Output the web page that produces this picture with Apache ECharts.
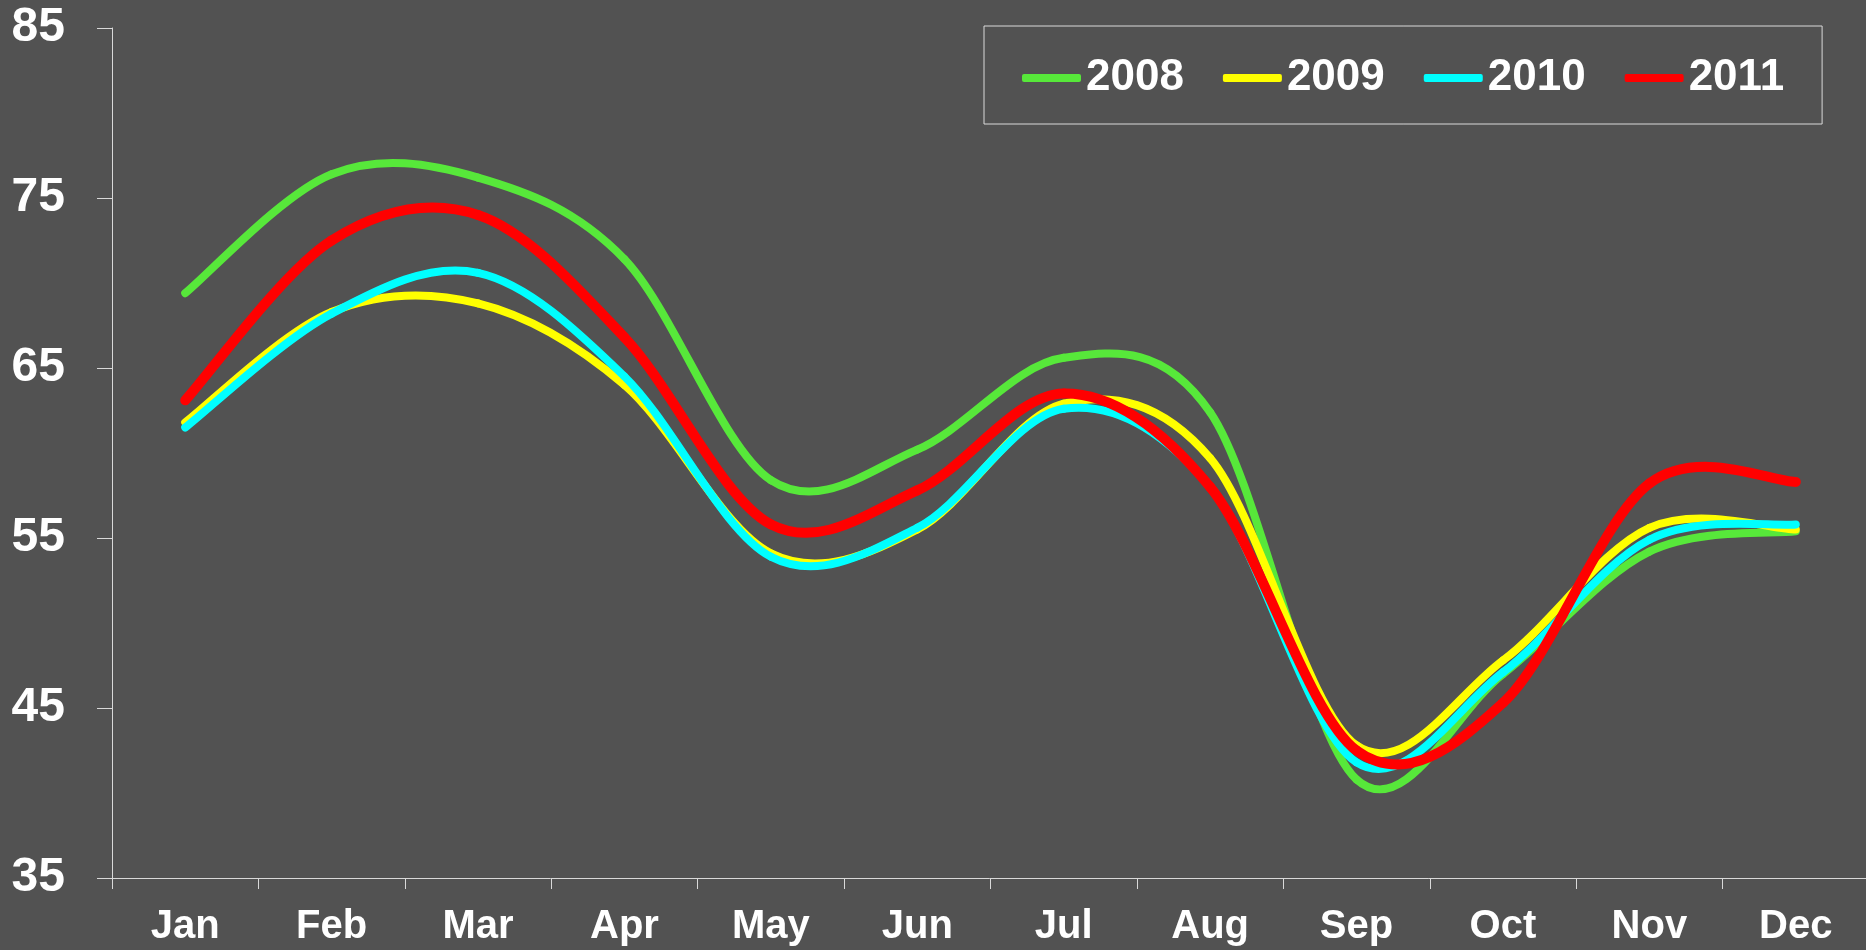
<!DOCTYPE html>
<html>
<head>
<meta charset="utf-8">
<script src="https://cdn.jsdelivr.net/npm/echarts@6/dist/echarts.min.js"></script>
<style>
  html, body { margin: 0; padding: 0; background: #525252; }
  #chart { width: 1866px; height: 950px; }
</style>
</head>
<body>
<div id="chart"></div>
<script>
// data
var months = ['Jan', 'Feb', 'Mar', 'Apr', 'May', 'Jun', 'Jul', 'Aug', 'Sep', 'Oct', 'Nov', 'Dec'];
var yTicks = [35, 45, 55, 65, 75, 85];
var years = ['2008', '2009', '2010', '2011'];

var v2008 = [69.4, 76.4, 76.2, 71.4, 58.4, 60.2, 65.6, 62.4, 40.8, 47.0, 54.2, 55.4];
var v2009 = [61.8, 68.3, 68.8, 64.0, 54.1, 55.5, 62.9, 59.7, 42.8, 47.8, 55.6, 55.5];
var v2010 = [61.5, 68.2, 70.6, 64.5, 53.9, 55.6, 62.6, 58.0, 41.8, 47.1, 54.9, 55.8];
var v2011 = [63.1, 72.5, 74.0, 66.8, 55.8, 57.8, 63.5, 58.0, 42.5, 45.3, 58.2, 58.3];

var colors = ['#57E83A', '#FFFF00', '#00FFFF', '#FF0000'];
var widths = [8, 8, 8, 10];

var font = '"Liberation Sans", Arial, sans-serif';

// excel-like smoothed line: one bezier piece per pair of neighbouring points
function makeSeries(name, vals, i) {
  return {
    name: name,
    type: 'custom',
    coordinateSystem: 'cartesian2d',
    data: vals.map(function (v, k) { return [k, v]; }),
    encode: { x: 0, y: 1 },
    itemStyle: { color: colors[i] },
    z: 2 + i,
    renderItem: function (params, api) {
      var k = params.dataIndex;
      if (k >= vals.length - 1) return null;
      var p0 = api.coord([Math.max(k - 1, 0), vals[Math.max(k - 1, 0)]]);
      var p1 = api.coord([k, vals[k]]);
      var p2 = api.coord([k + 1, vals[k + 1]]);
      var j = Math.min(k + 2, vals.length - 1);
      var p3 = api.coord([j, vals[j]]);
      return {
        type: 'bezierCurve',
        shape: {
          x1: p1[0], y1: p1[1],
          x2: p2[0], y2: p2[1],
          cpx1: p1[0] + (p2[0] - p0[0]) / 6,
          cpy1: p1[1] + (p2[1] - p0[1]) / 6,
          cpx2: p2[0] - (p3[0] - p1[0]) / 6,
          cpy2: p2[1] - (p3[1] - p1[1]) / 6
        },
        style: { stroke: colors[i], lineWidth: widths[i], fill: null, lineCap: 'round' }
      };
    }
  };
}

var myChart = echarts.init(document.getElementById('chart'));

var option = {
  backgroundColor: '#525252',
  animation: false,
  grid: {
    left: 112,
    top: 28,
    width: 1757,
    height: 850,
    containLabel: false,
    outerBoundsMode: 'none'
  },
  legend: {
    data: years,
    left: 984,
    top: 26,
    padding: [30, 38, 24, 38],
    borderColor: '#d9d9d9',
    borderWidth: 1,
    itemGap: 39,
    itemWidth: 59,
    itemHeight: 8,
    icon: 'roundRect',
    textStyle: { color: '#fff', fontSize: 44, fontWeight: 'bold', fontFamily: font }
  },
  xAxis: {
    type: 'category',
    data: months,
    boundaryGap: true,
    axisLine: { show: true, lineStyle: { color: '#d9d9d9', width: 1 } },
    axisTick: { show: true, length: 11, lineStyle: { color: '#d9d9d9' } },
    axisLabel: { color: '#fff', fontSize: 40, fontWeight: 'bold', fontFamily: font, margin: 29 },
    splitLine: { show: false }
  },
  yAxis: {
    type: 'value',
    min: yTicks[0],
    max: yTicks[yTicks.length - 1],
    interval: 10,
    axisLine: { show: true, lineStyle: { color: '#d9d9d9', width: 1 } },
    axisTick: { show: true, length: 15, lineStyle: { color: '#d9d9d9' } },
    axisLabel: { color: '#fff', fontSize: 48, fontWeight: 'bold', fontFamily: font, margin: 47 },
    splitLine: { show: false }
  },
  series: [
    makeSeries(years[0], v2008, 0),
    makeSeries(years[1], v2009, 1),
    makeSeries(years[2], v2010, 2),
    makeSeries(years[3], v2011, 3)
  ]
};

myChart.setOption(option);
</script>
</body>
</html>
